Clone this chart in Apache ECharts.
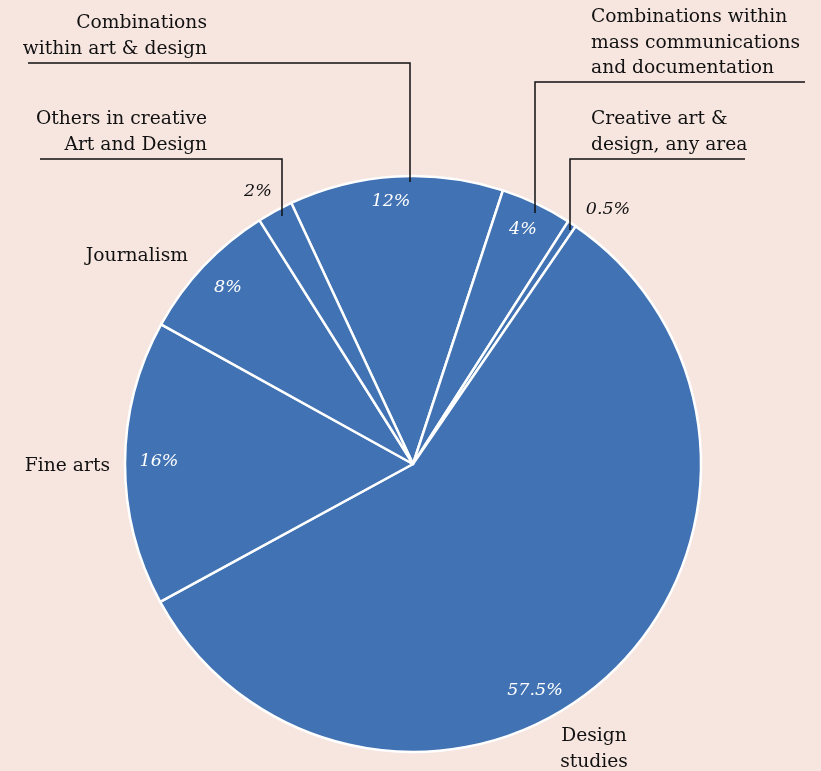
<!DOCTYPE html>
<html>
<head>
<meta charset="utf-8">
<script src="https://cdn.jsdelivr.net/npm/echarts@6/dist/echarts.min.js"></script>
<style>
html,body{margin:0;padding:0;background:#f7e6e0;}
#chart{width:821px;height:771px;}
</style>
</head>
<body>
<div id="chart"></div>
<script>
// Data (clockwise from the top-left edge of the 12% slice)
var categories = [
  'Combinations\nwithin art & design',
  'Combinations within\nmass communications\nand documentation',
  'Creative art &\ndesign, any area',
  'Design\nstudies',
  'Fine arts',
  'Journalism',
  'Others in creative\nArt and Design'
];
var shares = [12, 4, 0.5, 57.5, 16, 8, 2];

// Layout (positions only)
var pctLayout = [
  {x: 391, y: 201, color: '#fff'},
  {x: 523, y: 229, color: '#fff'},
  {x: 608, y: 209, color: '#111'},
  {x: 535, y: 690, color: '#fff'},
  {x: 159, y: 461, color: '#fff'},
  {x: 228, y: 287, color: '#fff'},
  {x: 258, y: 191, color: '#111'}
];
var nameLayout = [
  {x: 207, y: 36, align: 'right', line: [[410, 182], [410, 63], [28, 63]]},
  {x: 591, y: 43, align: 'left', line: [[535, 213], [535, 82], [805, 82]]},
  {x: 591, y: 132, align: 'left', line: [[570, 230], [570, 159], [745, 159]]},
  {x: 594, y: 749, align: 'center'},
  {x: 110, y: 466, align: 'right'},
  {x: 188, y: 256, align: 'right'},
  {x: 207, y: 132, align: 'right', line: [[282, 216], [282, 159], [40, 159]]}
];

var chart = echarts.init(document.getElementById('chart'), null, {renderer: 'canvas'});
var serif = '"DejaVu Serif", Georgia, serif';

var pieData = categories.map(function (c, i) { return {name: c, value: shares[i]}; });
var nameData = categories.map(function (c, i) {
  return {name: c, value: shares[i], labelLine: {show: !!nameLayout[i].line}};
});

chart.setOption({
  backgroundColor: '#f7e6e0',
  animation: false,
  series: [
    {
      type: 'pie',
      center: [413, 464],
      radius: [0, 288],
      startAngle: 115,
      clockwise: true,
      avoidLabelOverlap: false,
      silent: true,
      itemStyle: {color: '#4172b3', borderColor: '#ffffff', borderWidth: 2.5},
      label: {
        show: true,
        position: 'outside',
        formatter: function (p) { return p.value + '%'; },
        fontFamily: serif,
        fontStyle: 'italic',
        fontSize: 17.5,
        color: '#fff'
      },
      labelLine: {show: false},
      labelLayout: function (p) {
        var l = pctLayout[p.dataIndex];
        return {x: l.x, y: l.y, align: 'center', verticalAlign: 'middle'};
      },
      data: pieData.map(function (d, i) {
        return {name: d.name, value: d.value, label: {color: pctLayout[i].color}};
      })
    },
    {
      type: 'pie',
      center: [413, 464],
      radius: [0, 288],
      startAngle: 115,
      clockwise: true,
      avoidLabelOverlap: false,
      silent: true,
      z: 3,
      itemStyle: {color: 'rgba(0,0,0,0)', borderWidth: 0},
      label: {
        show: true,
        position: 'outside',
        formatter: '{b}',
        fontFamily: serif,
        fontSize: 18.7,
        lineHeight: 25.5,
        color: '#111'
      },
      labelLine: {show: true, lineStyle: {color: '#111', width: 1.5}},
      labelLayout: function (p) {
        var l = nameLayout[p.dataIndex];
        var o = {x: l.x, y: l.y, align: l.align, verticalAlign: 'middle'};
        if (l.line) { o.labelLinePoints = l.line; }
        return o;
      },
      data: nameData
    }
  ]
});
</script>
</body>
</html>
